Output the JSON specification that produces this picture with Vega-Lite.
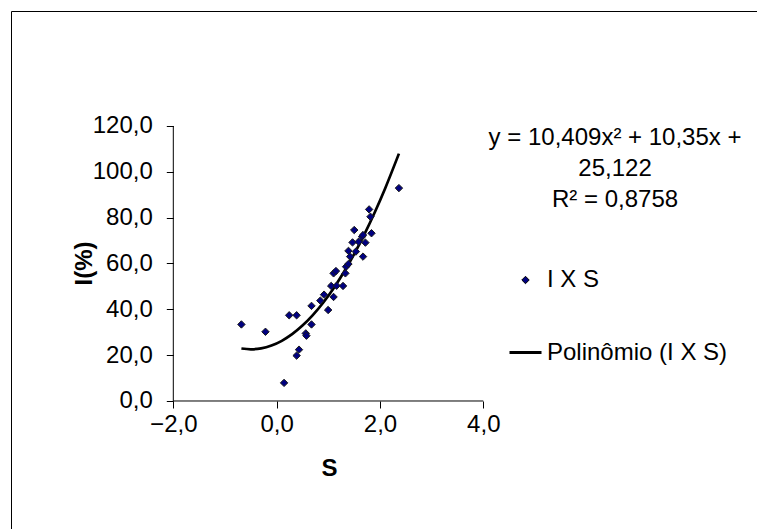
{
  "$schema": "https://vega.github.io/schema/vega-lite/v6.json",
  "width": 746,
  "height": 518,
  "autosize": {"type": "none"},
  "padding": {"left": 11, "top": 11, "right": 0, "bottom": 0},
  "background": "white",
  "view": {"stroke": "transparent", "strokeWidth": 0},
  "datasets": {
    "points": [
      {"S": -0.682, "I": 33.4, "series": "I X S"},
      {"S": -0.216, "I": 30.2, "series": "I X S"},
      {"S": 0.144, "I": 7.9, "series": "I X S"},
      {"S": 0.243, "I": 37.4, "series": "I X S"},
      {"S": 0.387, "I": 37.4, "series": "I X S"},
      {"S": 0.387, "I": 19.8, "series": "I X S"},
      {"S": 0.433, "I": 22.4, "series": "I X S"},
      {"S": 0.564, "I": 29.5, "series": "I X S"},
      {"S": 0.577, "I": 28.5, "series": "I X S"},
      {"S": 0.675, "I": 41.5, "series": "I X S"},
      {"S": 0.675, "I": 33.4, "series": "I X S"},
      {"S": 0.846, "I": 43.8, "series": "I X S"},
      {"S": 0.918, "I": 46.4, "series": "I X S"},
      {"S": 0.997, "I": 39.7, "series": "I X S"},
      {"S": 1.056, "I": 50.2, "series": "I X S"},
      {"S": 1.102, "I": 45.4, "series": "I X S"},
      {"S": 1.102, "I": 55.7, "series": "I X S"},
      {"S": 1.148, "I": 56.7, "series": "I X S"},
      {"S": 1.161, "I": 50.3, "series": "I X S"},
      {"S": 1.285, "I": 50.2, "series": "I X S"},
      {"S": 1.331, "I": 55.7, "series": "I X S"},
      {"S": 1.344, "I": 58.6, "series": "I X S"},
      {"S": 1.39, "I": 59.8, "series": "I X S"},
      {"S": 1.39, "I": 65.5, "series": "I X S"},
      {"S": 1.423, "I": 63.0, "series": "I X S"},
      {"S": 1.469, "I": 69.2, "series": "I X S"},
      {"S": 1.502, "I": 74.6, "series": "I X S"},
      {"S": 1.534, "I": 65.2, "series": "I X S"},
      {"S": 1.587, "I": 69.5, "series": "I X S"},
      {"S": 1.652, "I": 71.7, "series": "I X S"},
      {"S": 1.672, "I": 72.4, "series": "I X S"},
      {"S": 1.672, "I": 63.0, "series": "I X S"},
      {"S": 1.718, "I": 69.1, "series": "I X S"},
      {"S": 1.79, "I": 83.6, "series": "I X S"},
      {"S": 1.816, "I": 80.4, "series": "I X S"},
      {"S": 1.836, "I": 73.2, "series": "I X S"},
      {"S": 2.367, "I": 92.9, "series": "I X S"}
    ],
    "trend": [
      {"S": -0.682, "I": 22.9},
      {"S": -0.5, "I": 22.55},
      {"S": -0.3, "I": 22.95},
      {"S": -0.1, "I": 24.19},
      {"S": 0.1, "I": 26.26},
      {"S": 0.3, "I": 29.16},
      {"S": 0.5, "I": 32.9},
      {"S": 0.7, "I": 37.47},
      {"S": 0.9, "I": 42.87},
      {"S": 1.1, "I": 49.1},
      {"S": 1.3, "I": 56.17},
      {"S": 1.5, "I": 64.07},
      {"S": 1.7, "I": 72.8},
      {"S": 1.9, "I": 82.36},
      {"S": 2.1, "I": 92.76},
      {"S": 2.367, "I": 107.94}
    ],
    "one": [{"label": "equation"}]
  },
  "resolve": {"scale": {"x": "shared", "y": "shared"}, "axis": {"x": "independent", "y": "independent"}},
  "layer": [
    {
      "data": {"name": "one"},
      "mark": {"type": "rule", "color": "#000000", "strokeWidth": 1},
      "encoding": {
        "x": {"datum": -2, "type": "quantitative",
          "axis": {"orient": "top", "domain": true, "domainColor": "#000000", "domainWidth": 1, "ticks": false, "labels": false, "title": null, "grid": false}},
        "x2": {"datum": 4},
        "y": {"datum": 0, "type": "quantitative",
          "axis": {"orient": "left", "domain": true, "domainColor": "#000000", "domainWidth": 1, "ticks": false, "labels": false, "title": null, "grid": false}}
      }
    },
    {
      "data": {"name": "one"},
      "mark": {"type": "rule", "color": "#000000", "strokeWidth": 1},
      "encoding": {
        "x": {"datum": -2, "type": "quantitative", "axis": null},
        "y": {"datum": 0, "type": "quantitative", "axis": null},
        "y2": {"datum": 120}
      }
    },
    {
      "data": {"name": "trend"},
      "mark": {"type": "line", "color": "#000000", "strokeWidth": 2.7, "interpolate": "monotone"},
      "encoding": {
        "x": {"field": "S", "type": "quantitative", "axis": null},
        "y": {"field": "I", "type": "quantitative", "axis": null}
      }
    },
    {
      "data": {"name": "points"},
      "mark": {"type": "point", "filled": true, "stroke": "#1a1a1a", "opacity": 1},
      "encoding": {
        "x": {
          "field": "S", "type": "quantitative",
          "scale": {"domain": [-5.1413, 9.2975], "nice": false, "zero": false},
          "axis": {
            "orient": "bottom", "offset": -128, "values": [-2, 0, 2, 4], "domain": false,
            "tickSize": 7, "labelPadding": 4,
            "labelExpr": "replace(format(datum.value, '.1f'), '.', ',')",
            "title": "S", "titleX": 318, "titleY": 67, "titleBaseline": "middle", "titleAlign": "center", "titleAnchor": null
          }
        },
        "y": {
          "field": "I", "type": "quantitative",
          "scale": {"domain": [-55.86, 170.18], "nice": false, "zero": false},
          "axis": {
            "orient": "left", "offset": -162.3, "values": [0, 20, 40, 60, 80, 100, 120], "domain": false,
            "tickSize": 7, "labelPadding": 14,
            "labelExpr": "replace(format(datum.value, '.1f'), '.', ',')",
            "title": "I(%)", "titleX": -89, "titleY": 252, "titleAngle": -90, "titleBaseline": "middle", "titleAlign": "center", "titleAnchor": null
          }
        },
        "color": {
          "field": "series", "type": "nominal",
          "scale": {"domain": ["I X S", "Polinômio (I X S)"], "range": ["#000080", "#000000"]},
          "legend": {
            "title": null, "orient": "none", "legendX": 497, "legendY": 257,
            "padding": 0, "rowPadding": 43, "labelOffset": 4,
            "labelFontSize": 24, "labelColor": "black", "labelLimit": 400, "symbolStrokeColor": "#000000"
          }
        },
        "shape": {
          "field": "series", "type": "nominal",
          "scale": {"domain": ["I X S", "Polinômio (I X S)"], "range": ["diamond", "stroke"]},
          "legend": {"title": null}
        },
        "size": {
          "field": "series", "type": "ordinal",
          "scale": {"domain": ["I X S", "Polinômio (I X S)"], "range": [55, 1024]},
          "legend": {"title": null}
        },
        "strokeWidth": {
          "field": "series", "type": "ordinal",
          "scale": {"domain": ["I X S", "Polinômio (I X S)"], "range": [1, 3]},
          "legend": {"title": null}
        }
      }
    },
    {
      "data": {"name": "one"},
      "mark": {"type": "text", "align": "center", "baseline": "top", "fontSize": 24, "lineHeight": 31, "color": "#000000"},
      "encoding": {
        "x": {"datum": 6.55, "type": "quantitative", "axis": null},
        "y": {"datum": 120.0, "type": "quantitative", "axis": null},
        "text": {"value": ["y = 10,409x² + 10,35x +", "25,122", "R² = 0,8758"]}
      }
    }
  ],
  "config": {
    "font": "Liberation Sans",
    "view": {"stroke": "transparent", "strokeWidth": 0},
    "axis": {
      "grid": false, "labelFont": "Liberation Sans", "titleFont": "Liberation Sans",
      "labelFontSize": 24, "titleFontSize": 24, "titleFontWeight": "bold",
      "labelColor": "#000000", "titleColor": "#000000", "tickColor": "#000000", "tickWidth": 1
    },
    "legend": {"labelFont": "Liberation Sans"},
    "text": {"font": "Liberation Sans"}
  }
}
